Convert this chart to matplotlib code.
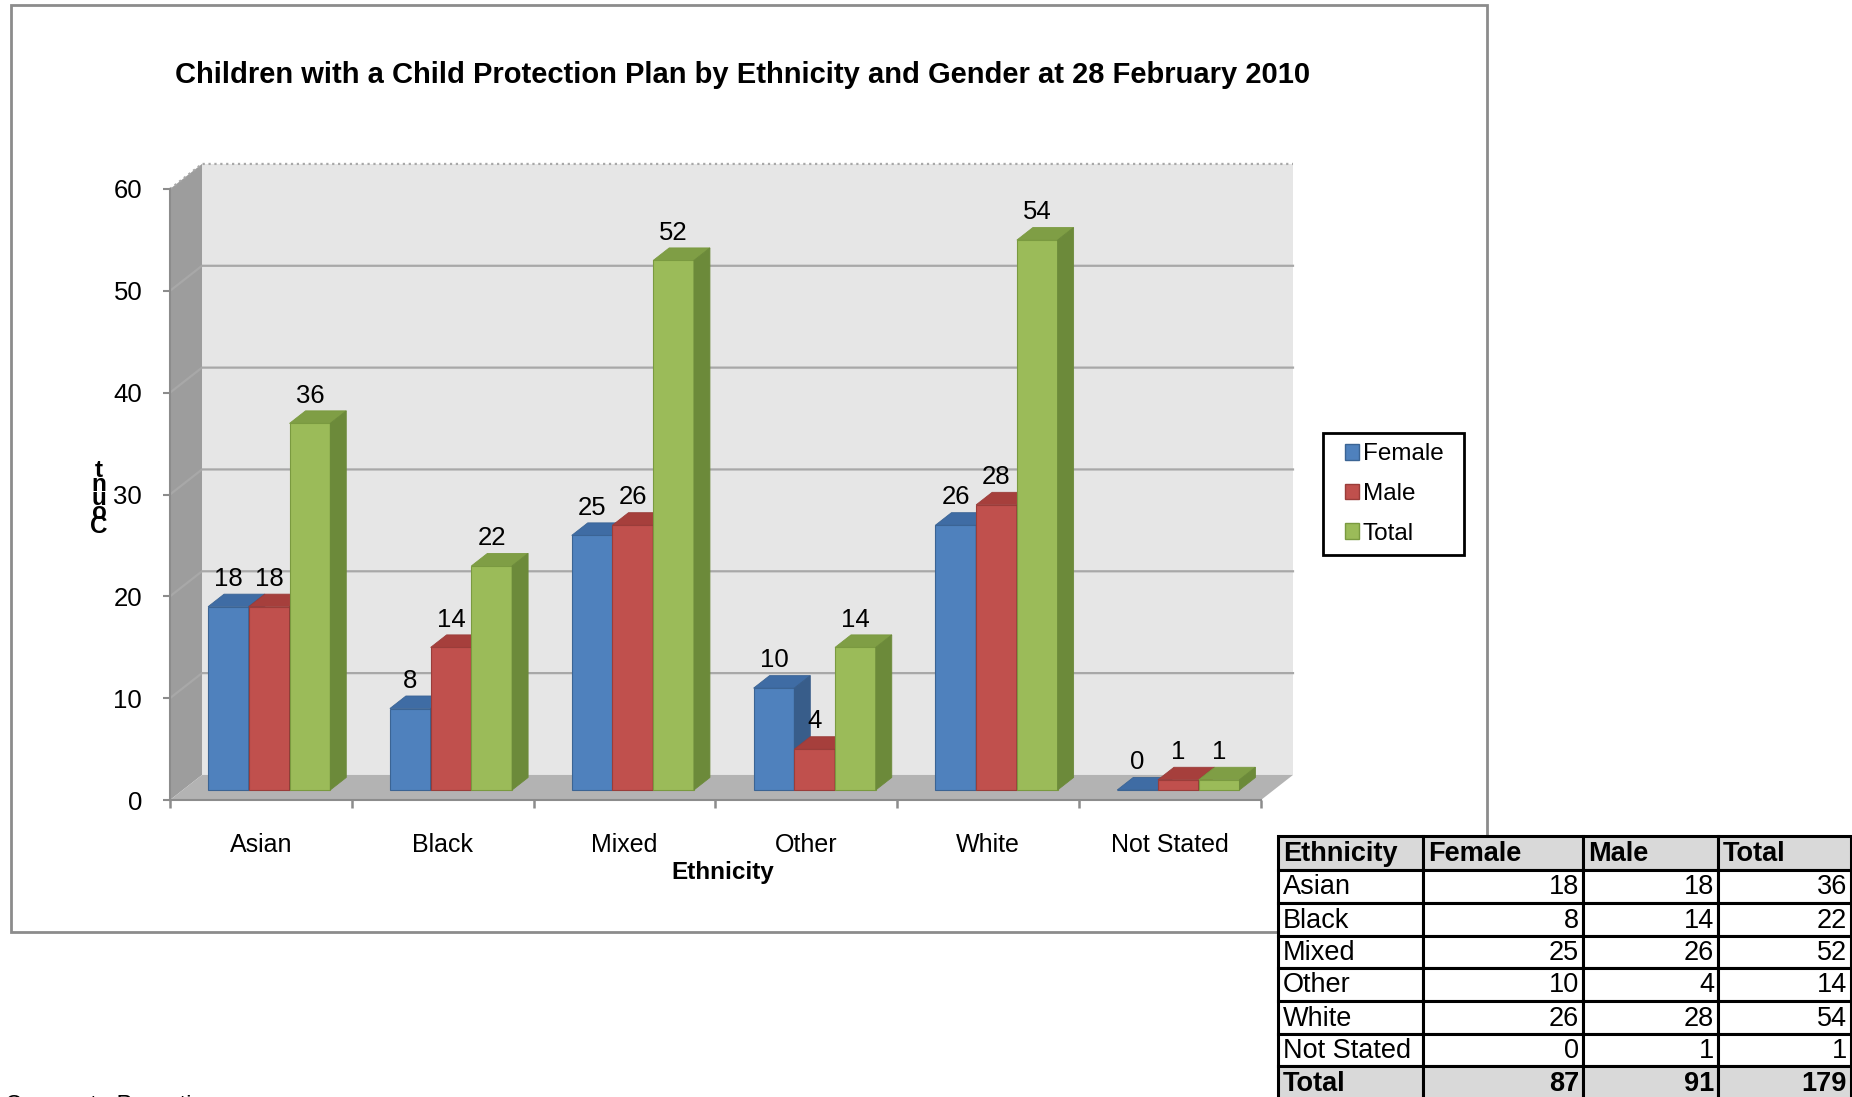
import numpy as np
import matplotlib
matplotlib.use('Agg')
import matplotlib.pyplot as plt
from matplotlib.patches import Polygon, Rectangle, Patch

plt.rcParams['font.family'] = ['Liberation Sans', 'DejaVu Sans']

# data
categories = ['Asian', 'Black', 'Mixed', 'Other', 'White', 'Not Stated']
female = [18, 8, 25, 10, 26, 0]
male = [18, 14, 26, 4, 28, 1]
total = [36, 22, 52, 14, 54, 1]
series_names = ['Female', 'Male', 'Total']
yticks = [0, 10, 20, 30, 40, 50, 60]

title = 'Children with a Child Protection Plan by Ethnicity and Gender at 28 February 2010'
x_label = 'Ethnicity'
y_label = 'Count'
footer = 'Corporate Parenting'
table_header = ['Ethnicity', 'Female', 'Male', 'Total']

# colours: front, top, side
face_cols = ['#4f81bd', '#c0504d', '#9bbb59']
top_cols = ['#3f6ca4', '#a63f3c', '#7f9e45']
side_cols = ['#385d8a', '#8c3836', '#6c8a3a']
edge_cols = ['#3b6494', '#9a3d3a', '#7a9a40']

W, H = 1852, 1097
fig = plt.figure(figsize=(W / 100, H / 100), dpi=100)

# background layer in pixel coordinates (frame, legend box, table, footer)
bg = fig.add_axes([0, 0, 1, 1], zorder=0)
bg.set_xlim(0, W)
bg.set_ylim(H, 0)
bg.axis('off')
bg.add_patch(Rectangle((11, 5), 1476, 927, fill=False, edgecolor='#8c8c8c', lw=2))

# main axes = front plane of the 3d box
ax = fig.add_axes([170 / W, 1 - 800 / H, 1091 / W, 611 / H], zorder=1)
ax.patch.set_visible(False)
ax.set_xlim(-0.5, 5.5)
ax.set_ylim(0, 60)

DX, DY = 0.176, 2.46       # depth of the box in data units
x0, x1 = -0.5, 5.5
ymax = yticks[-1]

ax.add_patch(Polygon([(x0, 0), (x0 + DX, DY), (x0 + DX, ymax + DY), (x0, ymax)],
                     closed=True, fc='#9d9d9d', ec='none', clip_on=False, zorder=0.5))
ax.add_patch(Polygon([(x0, 0), (x1, 0), (x1 + DX, DY), (x0 + DX, DY)],
                     closed=True, fc='#b3b3b3', ec='none', clip_on=False, zorder=0.5))
ax.add_patch(Rectangle((x0 + DX, DY), x1 - x0, ymax, fc='#e6e6e6', ec='none',
                       clip_on=False, zorder=0.4))
for v in yticks[1:]:
    ls = ':' if v == ymax else '-'
    ax.plot([x0, x0 + DX, x1 + DX], [v, v + DY, v + DY], color='#a8a8a8', lw=1.6,
            ls=ls, clip_on=False, zorder=0.6)

# bars
bw = 0.224
d0, dd = 0.4, 0.5
shift = -0.025
xs = np.arange(len(categories))
series = [female, male, total]
k = 0
for j in range(len(categories)):
    for i, vals in enumerate(series):
        v = vals[j]
        xl = xs[j] + shift - 1.5 * bw + i * bw + d0 * DX
        b = d0 * DY
        top = v + b
        z = 2 + k * 0.01
        k += 1
        ax.bar(xl, v, bw, bottom=b, align='edge', color=face_cols[i],
               edgecolor=edge_cols[i], lw=0.8, zorder=z, clip_on=False)
        ax.add_patch(Polygon([(xl, top), (xl + bw, top), (xl + bw + dd * DX, top + dd * DY),
                              (xl + dd * DX, top + dd * DY)], closed=True,
                             fc=top_cols[i], ec=edge_cols[i], lw=0.6, zorder=z, clip_on=False))
        ax.add_patch(Polygon([(xl + bw, b), (xl + bw + dd * DX, b + dd * DY),
                              (xl + bw + dd * DX, top + dd * DY), (xl + bw, top)], closed=True,
                             fc=side_cols[i], ec=side_cols[i], lw=0.6, zorder=z, clip_on=False))
        ax.annotate(str(v), xy=(xl + bw / 2, top), xytext=(0, 15), textcoords='offset points',
                    ha='center', va='baseline', fontsize=18.5, zorder=5)

# axes / ticks
for s in ['top', 'right']:
    ax.spines[s].set_visible(False)
for s in ['left', 'bottom']:
    ax.spines[s].set_color('#8c8c8c')
    ax.spines[s].set_linewidth(1.5)
ax.set_yticks(yticks)
ax.tick_params(axis='y', direction='out', length=5, width=1.5, color='#8c8c8c',
               pad=15, labelsize=18.5)
ax.set_xticks(np.arange(-0.5, 6, 1))
ax.set_xticklabels([])
ax.set_xticks(xs, minor=True)
ax.set_xticklabels(categories, minor=True)
ax.tick_params(axis='x', which='major', direction='out', length=6, width=1.8, color='#8c8c8c')
ax.tick_params(axis='x', which='minor', length=0, pad=24, labelsize=18)

bg.text(723, 872, x_label, ha='center', va='center', fontsize=17.5, fontweight='bold')
# stacked, overlapping y label (C at the bottom, t on top)
for n, ch in enumerate(y_label):
    bg.text(99, 533 - n * 14, ch, ha='center', va='baseline', fontsize=17.5, fontweight='bold')

bg.text(743, 75, title, ha='center', va='center', fontsize=21, fontweight='bold')

# legend (frame drawn separately)
handles = [Patch(facecolor=face_cols[i], edgecolor=edge_cols[i]) for i in range(3)]
leg = ax.legend(handles, series_names, loc='center', bbox_to_anchor=(1394 / W, 1 - 494 / H),
                bbox_transform=fig.transFigure, frameon=False, fontsize=17.5,
                handlelength=0.6, handleheight=0.6, handletextpad=0.15, labelspacing=0.72,
                borderpad=0.3, borderaxespad=0)
bg.add_patch(Rectangle((1323, 433), 141, 122, fill=False, edgecolor='black', lw=2, zorder=2))

# data table
col_edges = [1278, 1423, 1583, 1718, 1851]
row_edges = [836, 870, 903, 936, 968, 1001, 1034, 1066, 1100]
sums = [sum(female), sum(male), sum(total)]
rows = [table_header]
for j, c in enumerate(categories):
    rows.append([c, female[j], male[j], total[j]])
rows.append(['Total'] + sums)
for r, row in enumerate(rows):
    ytop, ybot = row_edges[r], row_edges[r + 1]
    shaded = r == 0 or r == len(rows) - 1
    for c, val in enumerate(row):
        xa, xb = col_edges[c], col_edges[c + 1]
        bg.add_patch(Rectangle((xa, ytop), xb - xa, ybot - ytop,
                               fc='#d9d9d9' if shaded else 'white', ec='black', lw=2.2, zorder=3))
        if c == 0 or r == 0:
            tx, ha = xa + 5, 'left'
        else:
            tx, ha = xb - 4, 'right'
        bg.text(tx, (ytop + ybot) / 2 + 1, str(val), ha=ha, va='center', fontsize=19.5,
                fontweight='bold' if shaded else 'normal', zorder=4)

bg.text(5, 1112, footer, ha='left', va='baseline', fontsize=17)

fig.savefig('out.png', dpi=100)
